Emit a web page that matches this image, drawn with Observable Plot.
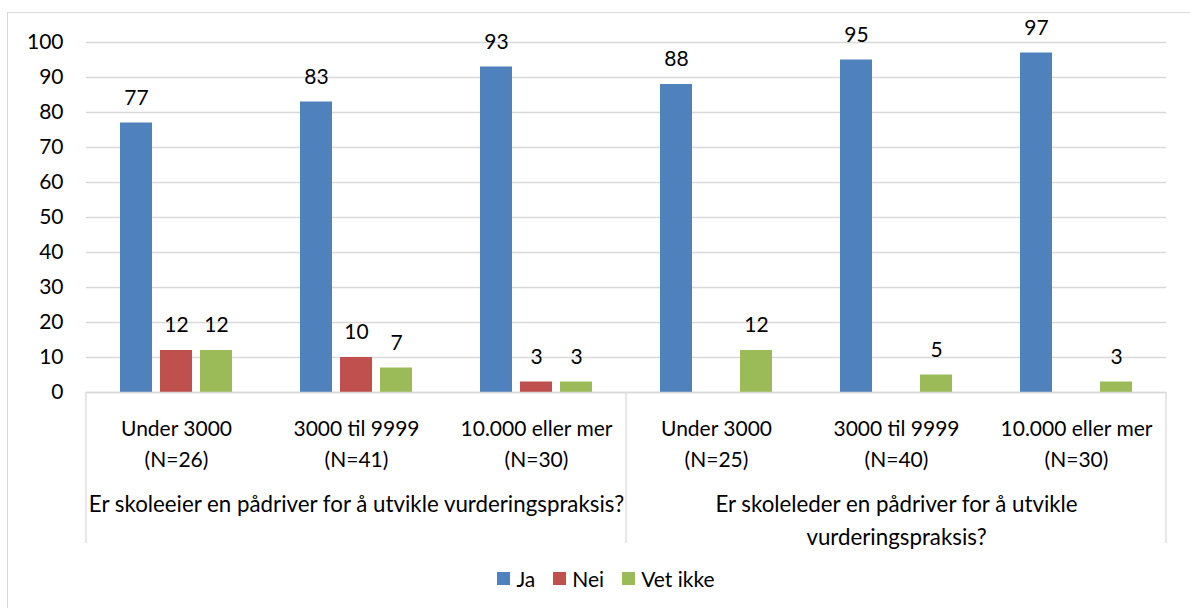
<!DOCTYPE html>
<html><head><meta charset="utf-8">
<script src="https://cdn.jsdelivr.net/npm/d3@7"></script>
<script src="https://cdn.jsdelivr.net/npm/@observablehq/plot@0.6"></script>
<style>
body{margin:0;background:#fff;font-family:Lato,"Open Sans",sans-serif;}
#wrap{position:relative;width:1190px;height:608px;overflow:hidden;background:#fff;}
#border{position:absolute;left:7px;top:12px;width:1200px;height:640px;border:1px solid #d9d9d9;box-sizing:border-box;}
#chart{position:absolute;left:0;top:0;}
#legend{position:absolute;top:566px;left:0;width:1212px;display:flex;justify-content:center;font-size:21px;color:#000;}
#legend .item{display:flex;align-items:center;margin:0 9px;}
#legend .sw{width:13px;height:13px;margin-right:6px;}
</style></head>
<body>
<div id="wrap"><div id="border"></div><div id="chart"></div><div id="legend"></div></div>
<script>
const categories = ["Under 3000","3000 til 9999","10.000 eller mer","Under 3000","3000 til 9999","10.000 eller mer"];
const nLabels = ["(N=26)","(N=41)","(N=30)","(N=25)","(N=40)","(N=30)"];
const groupLabels = ["Er skoleeier en pådriver for å utvikle vurderingspraksis?","Er skoleleder en pådriver for å utvikle\nvurderingspraksis?"];
const groupCenterIndex = [1, 4];
const groupStartIndex = [0, 3];
const series = ["Ja","Nei","Vet ikke"];
const colors = ["#4F81BD","#C0504D","#9BBB59"];
const ja = [77,83,93,88,95,97];
const nei = [12,10,3,null,null,null];
const vetIkke = [12,7,3,12,5,3];
const yTicks = [0,10,20,30,40,50,60,70,80,90,100];

const idx = categories.map((_, i) => i);
const valuesBySeries = [ja, nei, vetIkke];
const rows = [];
idx.forEach(i => series.forEach((s, k) => {
  const v = valuesBySeries[k][i];
  if (v != null) rows.push({cat: i, series: s, value: v});
}));
const catRows = idx.map(i => ({cat: i, label: categories[i] + "\n" + nLabels[i]}));
const groupRows = groupLabels.map((g, j) => ({cat: groupCenterIndex[j], label: g}));

const font = "Lato, 'Open Sans', sans-serif";
const plot = Plot.plot({
  width: 1190, height: 560,
  marginTop: 42, marginLeft: 83, marginRight: 22, marginBottom: 168,
  style: {fontFamily: font, fontSize: "21px", color: "#000", background: "transparent", overflow: "visible"},
  fx: {domain: idx, padding: 0, axis: null},
  x: {domain: series, paddingInner: 0.21, paddingOuter: 0.84, axis: null},
  y: {domain: [0, 100], axis: null},
  color: {domain: series, range: colors},
  marks: [
    Plot.gridY(yTicks, {stroke: "#d9d9d9", strokeOpacity: 1, strokeWidth: 1.3}),
    Plot.axisY(yTicks, {tickSize: 0, tickPadding: 23, fontSize: 21, label: null, fill: "#000"}),
    Plot.barY(rows, {fx: "cat", x: "series", y: "value", fill: "series"}),
    Plot.ruleY([0], {stroke: "#d9d9d9", strokeWidth: 1.3}),
    Plot.text(rows, {fx: "cat", x: "series", y: "value", text: d => String(d.value), dy: -25, lineAnchor: "middle", fill: "#000", fontSize: 21}),
    Plot.text(catRows, {fx: "cat", y: 0, text: "label", lineAnchor: "top", dy: 22, lineHeight: 1.45, fill: "#000", fontSize: 21}),
    Plot.text(groupRows, {fx: "cat", y: 0, text: "label", lineAnchor: "top", dy: 97, lineHeight: 1.45, fill: "#000", fontSize: 22.3})
  ]
});
document.getElementById("chart").appendChild(plot);

// group separators on the category axis
const fxS = plot.scale("fx"), yS = plot.scale("y");
const bw = fxS.bandwidth;
const sepX = groupStartIndex.map(i => fxS.apply(i)).concat([fxS.apply(idx[idx.length - 1]) + bw]);
const y0 = yS.apply(0);
d3.select(plot).append("g").selectAll("line").data(sepX).join("line")
  .attr("x1", d => d).attr("x2", d => d)
  .attr("y1", y0).attr("y2", y0 + 151)
  .attr("stroke", "#d9d9d9").attr("stroke-width", 1.3);

// legend
const leg = d3.select("#legend");
series.forEach((s, k) => {
  const it = leg.append("div").attr("class", "item");
  it.append("div").attr("class", "sw").style("background", colors[k]);
  it.append("span").text(s);
});
</script>
</body></html>
